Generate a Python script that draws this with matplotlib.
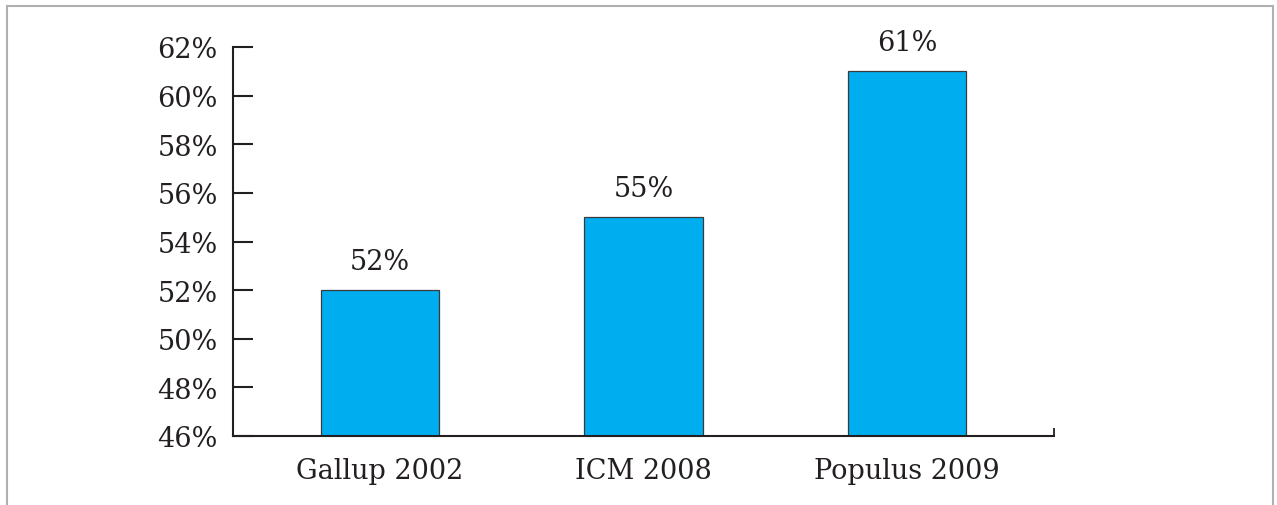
import matplotlib
matplotlib.use("Agg")
import matplotlib.pyplot as plt
from matplotlib.patches import Rectangle

categories = ["Gallup 2002", "ICM 2008", "Populus 2009"]
values = [52, 55, 61]
yticks = [46, 48, 50, 52, 54, 56, 58, 60, 62]
ytick_labels = [f"{v}%" for v in yticks]
bar_labels = [f"{v}%" for v in values]

plt.rcParams['font.family'] = ['DejaVu Serif']
fs = 19.5
text_color = "#231f20"

fig = plt.figure(figsize=(12.77, 5.06), dpi=100)
ax = fig.add_axes([233/1277, 69/506, (1054-233)/1277, (437-48)/506])

x = list(range(len(categories)))
bars = ax.bar(x, values, width=0.448, bottom=0, color="#00aeef",
              edgecolor="#3a3a3a", linewidth=0.9, zorder=2)
ax.set_ylim(46, 62)
ax.set_xlim(-0.558, len(categories) - 1 + 0.558)

for xi, v, lab in zip(x, values, bar_labels):
    ax.annotate(lab, (xi, v), xytext=(0, 11), textcoords="offset points",
                ha="center", va="bottom", fontsize=fs, color=text_color)

ax.set_yticks(yticks)
ax.set_yticklabels(ytick_labels)
ax.set_xticks(x)
ax.set_xticklabels(categories)
ax.set_xticks(ax.get_xlim(), minor=True)
ax.tick_params(axis="y", direction="in", length=14.5, width=1.5, color="#231f20",
               labelsize=fs, labelcolor=text_color, pad=11)
ax.tick_params(axis="x", which="major", length=0, labelsize=fs,
               labelcolor=text_color, pad=15)
ax.tick_params(axis="x", which="minor", direction="in", length=6, width=1.3,
               color="#231f20")
for s in ["top", "right"]:
    ax.spines[s].set_visible(False)
for s in ["left", "bottom"]:
    ax.spines[s].set_color("#231f20")
    ax.spines[s].set_linewidth(1.5)

border = Rectangle((7/1277, -0.2), (1273-7)/1277, 1.2 - 7/506,
                   transform=fig.transFigure, fill=False,
                   edgecolor="#b0b0b0", linewidth=1.5, clip_on=False)
fig.patches.append(border)

fig.savefig("out.png", dpi=100)
